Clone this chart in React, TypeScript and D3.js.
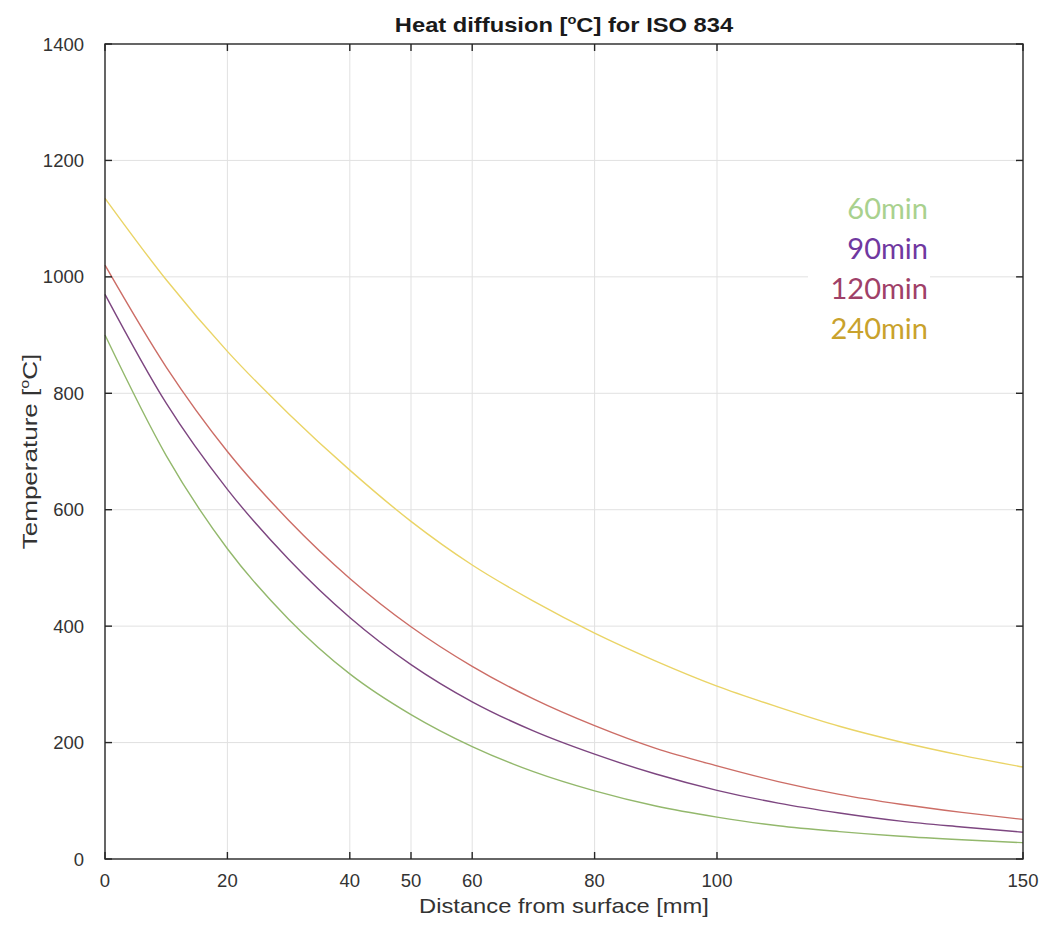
import React from 'react';
import * as d3 from 'd3';

const distances = [0, 10, 20, 30, 40, 50, 60, 70, 80, 90, 100, 110, 120, 130, 140, 150];
const temp60 = [900, 693, 533, 412, 318, 248, 193, 150, 117, 91, 72, 57, 47, 39, 33, 28];
const temp90 = [970, 783, 635, 515, 415, 334, 270, 220, 180, 146, 118, 96, 79, 65, 55, 46];
const temp120 = [1020, 845, 700, 582, 482, 399, 331, 275, 229, 190, 160, 133, 111, 94, 80, 68];
const temp240 = [1135, 995, 872, 765, 668, 580, 505, 443, 388, 340, 297, 261, 228, 201, 178, 158];

const seriesNames = ['60min', '90min', '120min', '240min'];
const lineColors = ['#93b86c', '#7d4680', '#cc6d66', '#ead466'];
const legendColors = ['#a9d18e', '#7038a0', '#9f4068', '#c9a22c'];

const xTicks = [0, 20, 40, 50, 60, 80, 100, 150];
const yTicks = [0, 200, 400, 600, 800, 1000, 1200, 1400];

const W = 1046;
const H = 926;
const M = { left: 105, right: 1023, top: 44, bottom: 859 };

export default function App() {
  const x = d3.scaleLinear().domain([0, 150]).range([M.left, M.right]);
  const y = d3.scaleLinear().domain([0, 1400]).range([M.bottom, M.top]);
  const allSeries = [temp60, temp90, temp120, temp240];

  const line = d3.line<number>()
    .x((_, i) => x(distances[i]))
    .y(d => y(d))
    .curve(d3.curveMonotoneX);

  const axisColor = '#262626';
  const font = '"Liberation Sans", Arial, sans-serif';
  const tickLen = 7;
  const cx = (M.left + M.right) / 2;
  const cy = (M.top + M.bottom) / 2;

  return (
    <svg width={W} height={H} style={{ display: 'block', position: 'absolute', left: 0, top: 0, background: '#fff' }}>
      <rect x={0} y={0} width={W} height={H} fill="#fff" />

      {/* grid */}
      <g stroke="#e1e1e1" strokeWidth={1}>
        {xTicks.slice(1, -1).map(t => (
          <line key={'gx' + t} x1={x(t)} x2={x(t)} y1={M.top} y2={M.bottom} />
        ))}
        {yTicks.slice(1, -1).map(t => (
          <line key={'gy' + t} x1={M.left} x2={M.right} y1={y(t)} y2={y(t)} />
        ))}
      </g>

      {/* legend backdrop hides the grid like the original */}
      <rect x={808} y={190} width={122} height={160} fill="#fff" />

      {/* curves */}
      <g fill="none" strokeWidth={1.4}>
        {allSeries.map((s, i) => (
          <path key={seriesNames[i]} d={line(s) || ''} stroke={lineColors[i]} />
        ))}
      </g>

      {/* box + ticks */}
      <rect x={M.left} y={M.top} width={M.right - M.left} height={M.bottom - M.top}
        fill="none" stroke={axisColor} strokeWidth={1.4} />
      <g stroke={axisColor} strokeWidth={1.4}>
        {xTicks.map(t => (
          <g key={'tx' + t}>
            <line x1={x(t)} x2={x(t)} y1={M.bottom} y2={M.bottom - tickLen} />
            <line x1={x(t)} x2={x(t)} y1={M.top} y2={M.top + tickLen} />
          </g>
        ))}
        {yTicks.map(t => (
          <g key={'ty' + t}>
            <line x1={M.left} x2={M.left + tickLen} y1={y(t)} y2={y(t)} />
            <line x1={M.right} x2={M.right - tickLen} y1={y(t)} y2={y(t)} />
          </g>
        ))}
      </g>

      {/* tick labels */}
      <g fontFamily={font} fontSize={18.5} fill="#333">
        {xTicks.map(t => (
          <text key={'lx' + t} x={x(t)} y={887} textAnchor="middle">{t}</text>
        ))}
        {yTicks.map(t => (
          <text key={'ly' + t} x={84} y={y(t) + 6.5} textAnchor="end">{t}</text>
        ))}
      </g>

      {/* axis titles (the original font renders wide, hence the x-stretch) */}
      <text transform={`translate(${cx}, 913) scale(1.13, 1)`} textAnchor="middle" fontFamily={font}
        fontSize={21} fill="#333">
        Distance from surface [mm]
      </text>
      <text transform={`translate(37, ${cy}) rotate(-90) scale(1.24, 1)`} textAnchor="middle"
        fontFamily={font} fontSize={21} fill="#333">
        Temperature [<tspan fontSize={13} dy={-8}>o</tspan><tspan dy={8}>C]</tspan>
      </text>
      <text transform={`translate(${cx}, 32) scale(1.13, 1)`} textAnchor="middle" fontFamily={font}
        fontSize={21} fontWeight="bold" fill="#1a1a1a">
        Heat diffusion [<tspan fontSize={13} dy={-8}>o</tspan><tspan dy={8}>C] for ISO 834</tspan>
      </text>

      {/* legend */}
      <g fontFamily='Lato, "Open Sans", sans-serif' fontSize={29} textAnchor="end">
        {seriesNames.map((n, i) => (
          <text key={n} x={928} y={219 + i * 40} fill={legendColors[i]}>{n}</text>
        ))}
      </g>
    </svg>
  );
}
